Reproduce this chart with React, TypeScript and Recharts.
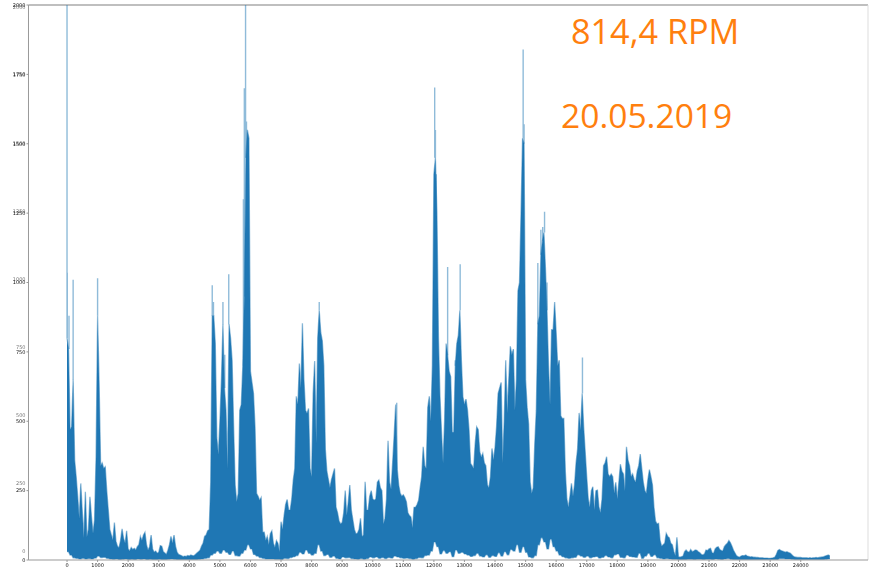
import React from "react";
import { ComposedChart, Area, Line, XAxis, YAxis, ReferenceLine } from "recharts";

const xTicks = [0,1000,2000,3000,4000,5000,6000,7000,8000,9000,10000,11000,12000,13000,14000,15000,16000,17000,18000,19000,20000,21000,22000,23000,24000];
const yTicks = [0,250,500,750,1000,1250,1500,1750,2000];

// upper edge of the dense band, one reading every 50 units
const bandHigh = [
800,760,470,480,650,360,300,228,150,276,
174,80,246,84,110,228,156,96,144,372,
880,640,340,350,330,336,250,180,110,90,
72,135,68,50,44,70,112,78,60,105,
40,32,45,38,42,36,48,55,85,70,
90,100,55,35,48,90,40,28,32,24,
28,52,50,30,25,20,35,55,85,60,
90,50,28,20,18,15,12,14,13,16,
14,18,16,15,20,25,30,35,50,60,
85,90,105,110,280,880,880,780,440,380,
500,650,850,620,540,330,850,800,720,480,
270,210,240,540,560,700,950,1450,1550,1520,
680,640,600,480,240,230,215,225,100,100,
70,85,55,95,105,60,45,70,60,30,
138,110,160,200,218,180,180,220,288,330,
588,560,708,620,853,650,540,528,546,330,
300,600,717,420,800,900,820,790,700,400,
320,290,260,290,310,330,190,170,140,130,
135,170,250,160,210,270,180,145,110,95,
96,110,150,85,90,282,180,180,230,250,
220,215,220,280,288,260,250,130,150,220,
430,280,255,350,450,560,330,270,240,230,
235,225,210,170,160,155,115,190,190,200,
215,260,300,408,340,330,550,590,500,700,
1390,1450,1250,800,590,460,350,500,780,738,
680,660,460,460,700,780,810,900,720,588,
560,580,540,470,348,340,330,420,480,470,
390,370,384,350,340,270,260,300,402,360,
405,480,600,620,640,350,500,720,530,650,
770,740,760,540,650,970,1000,1250,1520,1500,
650,550,490,280,240,260,420,540,850,880,
1100,1150,1180,1050,900,700,560,830,830,930,
820,700,720,520,510,510,320,220,190,230,
276,230,270,350,400,530,468,600,480,390,
300,220,190,250,264,180,250,252,190,170,
220,340,350,372,310,300,310,300,240,280,
220,280,345,320,310,250,408,360,340,300,
310,290,280,320,340,382,330,280,250,240,
290,326,300,270,190,140,130,132,70,50,
55,60,96,85,80,60,55,30,15,82,
12,10,12,14,30,36,30,28,38,30,
32,36,35,30,26,20,18,22,36,34,
40,42,26,24,40,46,48,38,34,32,
48,55,60,70,62,50,35,25,15,12,
10,14,16,15,18,14,13,11,12,10,
10,9,9,8,8,8,7,7,7,6,
6,7,8,10,20,34,38,34,32,30,
28,30,27,25,20,14,11,10,9,9,
9,8,8,8,8,7,8,7,8,8,
9,8,9,10,11,12,14,16,18,15,
];

// lower edge of the dense band, one reading every 100 units
const bandLow = [
30,18,8,6,4,6,4,5,4,7,
14,9,10,6,4,3,4,2,3,4,
2,3,2,4,3,4,2,3,2,2,
3,2,2,3,4,3,2,2,2,2,
2,2,2,3,4,6,8,18,24,32,
24,36,28,20,32,16,14,24,36,55,
40,20,14,9,6,4,4,4,3,3,
2,6,5,9,12,16,28,22,36,24,
18,24,55,32,16,20,10,14,6,4,
11,8,9,5,4,3,5,3,5,11,
8,11,6,9,5,9,7,14,11,8,
6,7,5,3,5,9,8,16,18,32,
65,48,22,34,24,30,12,36,24,28,
22,18,13,16,24,14,11,19,10,16,
13,26,14,30,19,38,32,55,28,48,
28,11,8,16,55,80,65,40,75,48,
32,18,12,8,6,8,10,19,14,10,
14,8,11,13,7,10,16,11,8,19,
22,10,8,18,13,11,10,24,6,14,
24,13,19,8,6,4,5,4,3,3,
2,2,2,3,3,2,3,3,2,3,
3,2,4,3,2,4,5,3,2,2,
2,2,2,2,2,2,2,2,2,2,
2,2,2,5,5,4,4,3,2,2,
2,2,2,2,2,2,2,2,3,4,
];

// isolated tall thin peaks that stand above the band
const spikeX = [0,10,65,200,1000,1020,4750,4790,5100,5160,5290,5360,5770,5800,5840,5870,6000,7500,7690,8250,10785,11840,12026,12050,12080,12450,12700,12860,14800,14920,14950,15400,15500,15560,15620,15700,15940,16860];
const spikeTop = [2000,1035,880,1010,1015,880,990,930,930,740,1030,800,1300,1700,2000,1580,680,590,853,930,567,590,1703,1550,1390,1056,720,1066,1000,1840,1570,1070,1190,1200,1255,1000,930,730];

const bandRows = bandHigh.map((high, i) => ({
  x: i * 50,
  band: [bandLow[Math.floor(i / 2)], high],
}));

const spikeRows = spikeX.flatMap((x, i) => {
  const base = bandHigh[Math.min(Math.round(x / 50), bandHigh.length - 1)];
  return [
    { x, y: Math.min(base, spikeTop[i]) },
    { x, y: spikeTop[i] },
    { x, y: null },
  ];
});

const lineColor = "#1f77b4";
const tickFont = { fontSize: 5, fontFamily: "DejaVu Sans", fill: "#111" };
const ghostFont = { fontSize: 5, fontFamily: "DejaVu Sans", fill: "#777" };
const noteStyle: React.CSSProperties = {
  position: "absolute",
  color: "#ff7f0e",
  fontFamily: "'Open Sans', sans-serif",
  lineHeight: "40px",
  whiteSpace: "nowrap",
};

export default function App() {
  return (
    <div style={{ position: "absolute", left: 0, top: 0, width: 869, height: 569, background: "#fff", overflow: "hidden" }}>
      <div style={{ filter: "blur(0.45px)" }}>
        <ComposedChart
          width={869}
          height={569}
          data={bandRows}
          margin={{ top: 5, right: 1, bottom: 0, left: 0 }}
        >
          <XAxis
            dataKey="x"
            type="number"
            domain={[-1260, 26200]}
            ticks={xTicks}
            interval={0}
            height={9}
            tick={tickFont}
            tickSize={2}
            tickMargin={1}
            stroke="#999"
            allowDataOverflow
          />
          <YAxis
            yAxisId="ghost"
            orientation="left"
            width={0.01}
            type="number"
            domain={[-31, 2009]}
            ticks={yTicks}
            interval={0}
            tick={ghostFont}
            tickSize={0}
            tickMargin={3}
            axisLine={false}
            tickLine={false}
            allowDataOverflow
          />
          <YAxis
            yAxisId="main"
            orientation="left"
            width={28.49}
            type="number"
            domain={[0, 2000]}
            ticks={yTicks}
            interval={0}
            tick={tickFont}
            tickSize={2}
            tickMargin={1}
            stroke="#999"
            allowDataOverflow
          />
          <ReferenceLine yAxisId="main" y={2000} stroke="#aaa" strokeWidth={1.6} ifOverflow="visible" />
          <ReferenceLine yAxisId="main" x={26200} stroke="#ddd" strokeWidth={1} ifOverflow="visible" />
          <Area
            yAxisId="main"
            dataKey="band"
            type="linear"
            fill={lineColor}
            fillOpacity={1}
            stroke={lineColor}
            strokeOpacity={0.5}
            strokeWidth={1.3}
            dot={false}
            isAnimationActive={false}
          />
          <Line
            yAxisId="main"
            data={spikeRows}
            dataKey="y"
            type="linear"
            stroke={lineColor}
            strokeOpacity={0.5}
            strokeWidth={1.4}
            dot={false}
            connectNulls={false}
            isAnimationActive={false}
          />
        </ComposedChart>
      </div>
      <div style={{ ...noteStyle, left: 571, top: 11, fontSize: 34.2 }}>814,4 RPM</div>
      <div style={{ ...noteStyle, left: 561, top: 95, fontSize: 33.6 }}>20.05.2019</div>
    </div>
  );
}
